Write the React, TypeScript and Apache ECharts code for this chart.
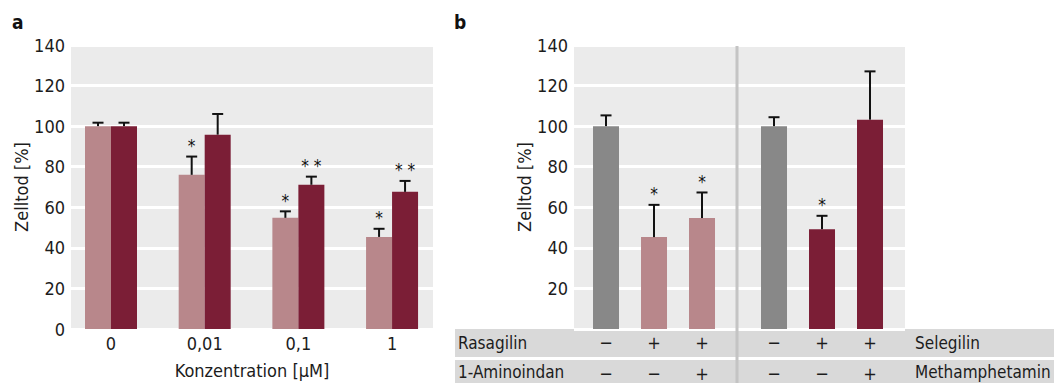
import React, { useEffect, useRef } from 'react';
import * as echarts from 'echarts';

const FONT = "'Liberation Sans Narrow', 'DejaVu Sans Condensed', 'Roboto Condensed', 'Noto Sans', sans-serif";
const TXT = '#1c1c1c';
const FS = 18;

// ---------- Panel a ----------
const concLabels = ['0', '0,01', '0,1', '1'];
const lightA = [100, 76, 54.8, 45.4];
const lightAErr = [1.7, 9, 3.2, 4];
const lightASig = ['', '*', '*', '*'];
const darkA = [100, 95.8, 71.1, 67.6];
const darkAErr = [1.7, 10.2, 4, 5.4];
const darkASig = ['', '', '* *', '* *'];

// ---------- Panel b ----------
const bValues = [100, 45.3, 54.7, 100, 49.2, 103.2];
const bErr = [5.3, 15.9, 12.6, 4.4, 6.6, 23.8];
const bSig = ['', '*', '*', '', '*', ''];
const bKinds = ['ctrl', 'light', 'light', 'ctrl', 'dark', 'dark'];
const row1Signs = ['\u2212', '+', '+', '\u2212', '+', '+'];
const row2Signs = ['\u2212', '\u2212', '+', '\u2212', '\u2212', '+'];
const rowLabelsLeft = ['Rasagilin', '1-Aminoindan'];
const rowLabelsRight = ['Selegilin', 'Methamphetamin'];

const COLORS: Record<string, string> = { ctrl: '#888888', light: '#b8878b', dark: '#7b1e36' };

// slot positions: two groups of three with a half-slot gap
const bSlots = bValues.map((_, i) => i + (i >= 3 ? 0.5 : 0));
const aSlots = concLabels.map((_, i) => i);

function errorSeries(xAxisIndex: number, yAxisIndex: number, xs: number[], vals: number[], errs: number[], sigs: string[], pxOffset: number) {
  return {
    type: 'custom',
    xAxisIndex,
    yAxisIndex,
    z: 10,
    silent: true,
    data: xs.map((x, i) => [x, vals[i], vals[i] + errs[i]]),
    renderItem: (params: any, api: any) => {
      const i = params.dataIndex;
      const p0 = api.coord([api.value(0), api.value(1)]);
      const p1 = api.coord([api.value(0), api.value(2)]);
      const x = p0[0] + pxOffset;
      const cap = 11;
      const children: any[] = [
        { type: 'line', shape: { x1: x, y1: p0[1], x2: x, y2: p1[1] }, style: { stroke: '#111', lineWidth: 2 } },
        { type: 'line', shape: { x1: x - cap / 2, y1: p1[1], x2: x + cap / 2, y2: p1[1] }, style: { stroke: '#111', lineWidth: 2 } },
      ];
      if (sigs[i]) {
        children.push({
          type: 'text',
          x,
          y: p1[1] - 2,
          style: { text: sigs[i], fill: '#111', fontSize: 17, fontFamily: FONT, align: 'center', verticalAlign: 'bottom' },
        });
      }
      return { type: 'group', children };
    },
  };
}

function slotLabel(slots: number[], labels: string[]) {
  return (v: number) => {
    const i = slots.findIndex((s) => Math.abs(s - v) < 1e-6);
    return i >= 0 ? labels[i] : '';
  };
}

export default function App() {
  const ref = useRef<HTMLDivElement>(null);
  useEffect(() => {
    if (!ref.current) return;
    const chart = echarts.init(ref.current, undefined, { renderer: 'svg' });

    const aMin = -0.427, aMax = 3.437;
    const bMin = -0.667, bMax = 6.229;

    const yAxisBase = (gridIndex: number, hideZero: boolean) => ({
      type: 'value',
      gridIndex,
      min: 0,
      max: 140,
      interval: 20,
      name: 'Zelltod [%]',
      nameLocation: 'middle',
      nameGap: 39,
      nameTextStyle: { fontSize: FS, fontFamily: FONT, color: TXT },
      axisLine: { show: false },
      axisTick: { show: false },
      axisLabel: {
        fontSize: FS,
        fontFamily: FONT,
        color: TXT,
        margin: 6,
        formatter: (v: number) => (hideZero && v === 0 ? '' : String(v)),
      },
      splitLine: { show: true, lineStyle: { color: '#ffffff', width: 3 } },
    });

    const signAxis = (signs: string[], margin: number) => ({
      type: 'value',
      gridIndex: 1,
      position: 'bottom',
      offset: 0,
      min: bMin,
      max: bMax,
      axisLine: { show: false },
      axisTick: { show: false },
      splitLine: { show: false },
      axisLabel: {
        customValues: bSlots,
        formatter: slotLabel(bSlots, signs),
        fontSize: FS,
        fontFamily: FONT,
        color: TXT,
        margin,
        verticalAlign: 'middle',
      },
    });

    const option: any = {
      animation: false,
      backgroundColor: '#ffffff',
      grid: [
        { left: 71, top: 45, width: 362, height: 284, show: true, backgroundColor: '#ebebeb', borderWidth: 0, outerBoundsMode: 'none' },
        { left: 574, top: 45, width: 331, height: 284, show: true, backgroundColor: '#ebebeb', borderWidth: 0, outerBoundsMode: 'none' },
      ],
      xAxis: [
        {
          type: 'value',
          gridIndex: 0,
          position: 'bottom',
          min: aMin,
          max: aMax,
          name: 'Konzentration [\u00b5M]',
          nameLocation: 'middle',
          nameGap: 32,
          nameTextStyle: { fontSize: FS, fontFamily: FONT, color: TXT },
          axisLine: { show: false },
          axisTick: { show: false },
          splitLine: { show: false },
          axisLabel: {
            customValues: aSlots,
            formatter: slotLabel(aSlots, concLabels),
            fontSize: FS,
            fontFamily: FONT,
            color: TXT,
            margin: 5,
          },
        },
        {
          type: 'value',
          gridIndex: 1,
          position: 'bottom',
          min: bMin,
          max: bMax,
          axisLine: { show: false },
          axisTick: { show: false },
          splitLine: { show: false },
          axisLabel: { show: false },
        },
        signAxis(row1Signs, 13),
        signAxis(row2Signs, 44),
      ],
      yAxis: [yAxisBase(0, false), yAxisBase(1, true)],
      graphic: [
        { type: 'rect', shape: { x: 455, y: 329, width: 600, height: 28 }, style: { fill: '#d9d9d9' }, z: -1 },
        { type: 'rect', shape: { x: 455, y: 360, width: 600, height: 30 }, style: { fill: '#d9d9d9' }, z: -1 },
        { type: 'line', shape: { x1: 737, y1: 46, x2: 737, y2: 383 }, style: { stroke: '#c4c4c4', lineWidth: 3 }, z: 50 },
        { type: 'text', x: 458, y: 343, style: { text: rowLabelsLeft[0], fontSize: 17, fontFamily: FONT, fill: TXT, verticalAlign: 'middle' }, z: 60 },
        { type: 'text', x: 458, y: 372, style: { text: rowLabelsLeft[1], fontSize: 17, fontFamily: FONT, fill: TXT, verticalAlign: 'middle' }, z: 60 },
        { type: 'text', x: 915, y: 343, style: { text: rowLabelsRight[0], fontSize: 17, fontFamily: FONT, fill: TXT, verticalAlign: 'middle' }, z: 60 },
        { type: 'text', x: 915, y: 372, style: { text: rowLabelsRight[1], fontSize: 17, fontFamily: FONT, fill: TXT, verticalAlign: 'middle' }, z: 60 },
        { type: 'text', x: 12, y: 22, style: { text: 'a', fontSize: 19, fontWeight: 'bold', fontFamily: FONT, fill: '#111', verticalAlign: 'middle' }, z: 60 },
        { type: 'text', x: 454, y: 22, style: { text: 'b', fontSize: 19, fontWeight: 'bold', fontFamily: FONT, fill: '#111', verticalAlign: 'middle' }, z: 60 },
      ],
      series: [
        {
          type: 'bar',
          name: 'hell',
          xAxisIndex: 0,
          yAxisIndex: 0,
          barWidth: 26,
          barGap: '0%',
          itemStyle: { color: COLORS.light },
          data: aSlots.map((x, i) => [x, lightA[i]]),
        },
        {
          type: 'bar',
          name: 'dunkel',
          xAxisIndex: 0,
          yAxisIndex: 0,
          barWidth: 26,
          barGap: '0%',
          itemStyle: { color: COLORS.dark },
          data: aSlots.map((x, i) => [x, darkA[i]]),
        },
        errorSeries(0, 0, aSlots, lightA, lightAErr, lightASig, -13),
        errorSeries(0, 0, aSlots, darkA, darkAErr, darkASig, 13),
        {
          type: 'bar',
          name: 'b',
          xAxisIndex: 1,
          yAxisIndex: 1,
          barWidth: 26,
          data: bSlots.map((x, i) => ({ value: [x, bValues[i]], itemStyle: { color: COLORS[bKinds[i]] } })),
        },
        errorSeries(1, 1, bSlots, bValues, bErr, bSig, 0),
      ],
    };

    chart.setOption(option);
    return () => chart.dispose();
  }, []);

  return <div ref={ref} style={{ position: 'absolute', left: 0, top: 0, width: 1054, height: 383 }} />;
}
